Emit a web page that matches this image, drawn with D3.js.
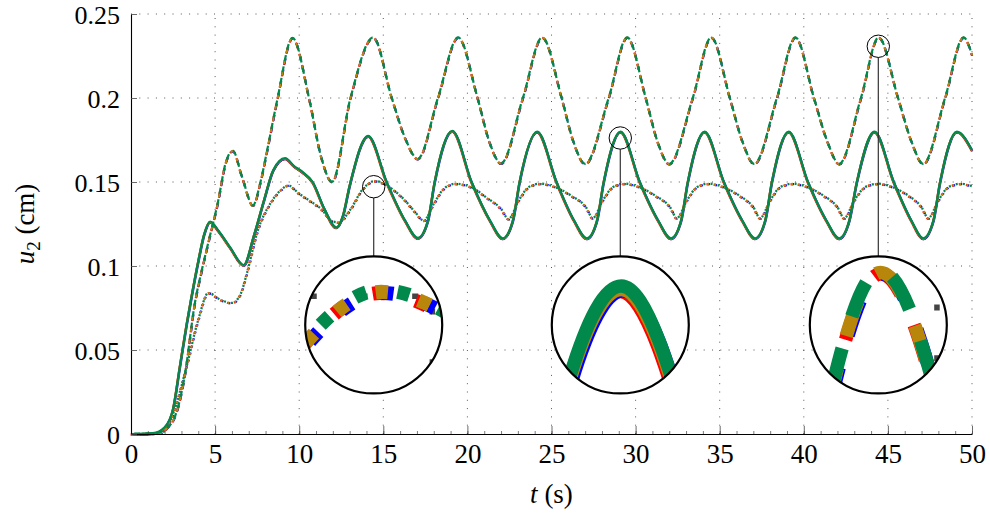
<!DOCTYPE html>
<html>
<head>
<meta charset="utf-8">
<script src="https://cdn.jsdelivr.net/npm/d3@7"></script>
<style>
  body { margin: 0; background: #fff; }
</style>
</head>
<body>
<svg id="chart" width="990" height="519"></svg>
<script>

// ---- data: [t (s), u2 (cm)] ----
var dashedPts = [[0,0],[1.5,0.0005],[2.3,0.005],[2.8,0.016],[3.2,0.035],[3.8,0.078],[4.2,0.097],[4.6,0.114],
  [5.15,0.137],[5.65,0.162],[6.05,0.1685],[6.6,0.153],[7.25,0.136],[7.7,0.150],[8.1,0.169],[8.7,0.199],
  [9.6,0.2357],[10.6,0.199],[11.3,0.165],[11.95,0.150],[13.05,0.200],[14.4,0.236],[15.5,0.200],[16.3,0.176],
  [17.05,0.1637],[18.25,0.200],[19.45,0.236],[20.6,0.200],[21.3,0.174],[22.0,0.161],[23.3,0.200],[24.45,0.236],
  [25.6,0.200],[26.3,0.174],[27.0,0.1607],[28.4,0.200],[29.5,0.236],[30.6,0.200],[31.3,0.174],[32.0,0.1607],
  [33.4,0.200],[34.5,0.236],[35.6,0.200],[36.35,0.174],[37.05,0.1607],[38.4,0.200],[39.5,0.236],[40.6,0.200],
  [41.4,0.174],[42.1,0.1607],[43.4,0.200],[44.45,0.236],[45.6,0.200],[46.4,0.174],[47.1,0.1607],[48.4,0.200],
  [49.5,0.236],[50,0.2255]];

var solidPts = [[0,0],[1.3,0.0005],[2.0,0.004],[2.5,0.015],[2.9,0.040],[3.3,0.065],[3.6,0.082],[4.0,0.103],
  [4.35,0.119],[4.7,0.1265],[5.2,0.121],[5.9,0.111],[6.7,0.1006],[7.3,0.118],[7.9,0.139],[8.45,0.157],
  [9.16,0.1642],[9.7,0.1595],[10.2,0.156],[10.8,0.150],[11.5,0.134],[12.2,0.123],[12.6,0.130],[13.0,0.148],
  [14.1,0.1775],[15.2,0.150],[16.3,0.127],[17.05,0.1167],[17.65,0.127],[18.05,0.150],[19.1,0.1805],[20.25,0.150],
  [21.35,0.127],[22.1,0.1165],[22.7,0.127],[23.1,0.150],[24.15,0.180],[25.3,0.150],[26.35,0.127],[27.1,0.1165],
  [27.7,0.127],[28.1,0.150],[29.1,0.180],[30.25,0.150],[31.35,0.127],[32.1,0.1165],[32.7,0.127],[33.1,0.150],
  [34.1,0.180],[35.25,0.150],[36.35,0.127],[37.1,0.1165],[37.7,0.127],[38.1,0.150],[39.1,0.180],[40.25,0.150],
  [41.35,0.127],[42.1,0.1165],[42.7,0.127],[43.15,0.150],[44.2,0.180],[45.35,0.150],[46.4,0.127],[47.1,0.1165],
  [47.7,0.127],[48.1,0.150],[49.1,0.180],[50,0.169]];

var dottedPts = [[0,0],[1.8,0.0005],[2.5,0.012],[3.3,0.040],[4.0,0.068],[4.6,0.084],[5.3,0.080],[6.0,0.078],
  [6.5,0.083],[6.9,0.096],[7.5,0.120],[8.3,0.1375],[9.0,0.146],[9.35,0.148],[10.0,0.143],[10.6,0.139],
  [11.3,0.134],[12.0,0.1265],[12.35,0.126],[13.0,0.133],[13.8,0.146],[14.5,0.1506],[15.5,0.146],[16.2,0.140],
  [16.9,0.132],[17.4,0.127],[18.0,0.137],[18.6,0.146],[19.3,0.149],[20.4,0.146],[21.1,0.141],[22.0,0.134],
  [22.45,0.128],[23.05,0.139],[23.65,0.147],[24.35,0.149],[25.45,0.146],[26.15,0.142],[27.05,0.135],[27.45,0.1285],
  [28.05,0.139],[28.65,0.147],[29.35,0.149],[30.45,0.146],[31.15,0.142],[32.05,0.135],[32.45,0.1285],[33.05,0.139],
  [33.65,0.147],[34.35,0.149],[35.45,0.146],[36.15,0.142],[37.0,0.135],[37.4,0.1285],[38.0,0.139],[38.6,0.147],
  [39.35,0.149],[40.45,0.146],[41.15,0.142],[42.0,0.135],[42.4,0.1285],[43.0,0.139],[43.65,0.147],[44.4,0.149],
  [45.5,0.146],[46.2,0.142],[47.0,0.135],[47.4,0.1285],[48.0,0.139],[48.6,0.147],[49.35,0.149],[50,0.1475]];

var xTicks = [0, 5, 10, 15, 20, 25, 30, 35, 40, 45, 50];
var xMinorTicks = d3.range(0, 51, 1);
var yTicks = [0, 0.05, 0.1, 0.15, 0.2, 0.25];
var yTickLabels = ["0", "0.05", "0.1", "0.15", "0.2", "0.25"];

// magnifier spots (t, u) and the level of the lens centres
var zoomSpots = [[14.43, 0.1472], [29.09, 0.1762], [44.43, 0.2308]];
var lensLevel = 0.0649;

var seriesColors = ["#ff0000", "#0000ff", "#b8860b", "#00894b"];

// ---- layout ----
var svg = d3.select("#chart");
var x = d3.scaleLinear().domain([0, 50]).range([131, 972]);
var y = d3.scaleLinear().domain([0, 0.25]).range([434, 14]);
var serif = "'Liberation Serif', 'Times New Roman', serif";

var line = d3.line()
  .x(function (d) { return x(d[0]); })
  .y(function (d) { return y(d[1]); })
  .curve(d3.curveMonotoneX);

// small pixel shifts (per colour) so the overlapping methods peek out from under each other
var styles = [
  { pts: dashedPts, width: 2.2, dash: "6,5.5", offs: [0.4, -0.4, 0, -3.0],
    shift: [[0, 0.4], [0.2, 0.4], [0, 0.15], [0, -0.2]] },
  { pts: solidPts,  width: 2.2, dash: null,    offs: [0, 0, 0, 0],
    shift: [[-0.2, 0.9], [0.3, 0.8], [0, 0.6], [0, 0]] },
  { pts: dottedPts, width: 2.3, dash: "2,5.2", offs: [0.3, -0.6, 0, -3.6],
    shift: [[-0.2, 0.5], [0.3, 0.5], [0, 0.3], [0, 0]] }
];

function drawPlot(g) {
  var grid = g.append("g")
    .attr("stroke", "#444")
    .attr("stroke-width", 0.9)
    .attr("stroke-dasharray", "1,7.3");

  grid.selectAll("line.v")
    .data(xTicks.slice(1))
    .enter().append("line")
    .attr("x1", function (d) { return x(d); })
    .attr("x2", function (d) { return x(d); })
    .attr("y1", y(0))
    .attr("y2", y(0.25));

  grid.selectAll("line.h")
    .data(yTicks.slice(1))
    .enter().append("line")
    .attr("x1", x(0))
    .attr("x2", x(50))
    .attr("y1", function (d) { return y(d); })
    .attr("y2", function (d) { return y(d); });

  seriesColors.forEach(function (c, i) {
    styles.forEach(function (s) {
      var p = g.append("path")
        .datum(s.pts)
        .attr("d", line)
        .attr("fill", "none")
        .attr("stroke", c)
        .attr("stroke-width", s.width)
        .attr("stroke-linejoin", "round")
        .attr("transform", "translate(" + s.shift[i][0] + "," + s.shift[i][1] + ")");
      if (s.dash) {
        p.attr("stroke-dasharray", s.dash)
          .attr("stroke-dashoffset", s.offs[i]);
      }
    });
  });
}

drawPlot(svg.append("g").attr("class", "plot"));

// ---- axes ----
var xAxis = d3.axisBottom(x)
  .tickValues(xTicks)
  .tickFormat(d3.format("d"))
  .tickSizeInner(-8)
  .tickSizeOuter(0)
  .tickPadding(9.6);

var xMinor = d3.axisBottom(x)
  .tickValues(xMinorTicks)
  .tickFormat("")
  .tickSizeInner(-3)
  .tickSizeOuter(0);

var yAxis = d3.axisLeft(y)
  .tickValues(yTicks)
  .tickFormat(function (d, i) { return yTickLabels[i]; })
  .tickSizeInner(-6)
  .tickSizeOuter(0)
  .tickPadding(11);

var gxm = svg.append("g").attr("transform", "translate(0," + y(0) + ")").call(xMinor);
gxm.select(".domain").remove();
gxm.selectAll(".tick line").attr("stroke", "#444").attr("stroke-width", 0.7);

var gx = svg.append("g").attr("transform", "translate(0," + y(0) + ")").call(xAxis);
var gy = svg.append("g").attr("transform", "translate(" + x(0) + ",0)").call(yAxis);

gx.attr("font-family", serif).attr("font-size", 27);
gy.attr("font-family", serif).attr("font-size", 26);
gy.selectAll(".tick text").attr("dy", "0.36em");

[gx, gy].forEach(function (g) {
  g.select(".domain").attr("stroke", "#000").attr("stroke-width", 1.1);
  g.selectAll(".tick line").attr("stroke", "#444").attr("stroke-width", 0.8);
  g.selectAll(".tick text").attr("fill", "#000");
});

// axis titles
var xt = svg.append("text")
  .attr("x", (x(0) + x(50)) / 2)
  .attr("y", 503)
  .attr("text-anchor", "middle")
  .attr("font-family", serif)
  .attr("font-size", 27);
xt.append("tspan").style("font-style", "italic").text("t");
xt.append("tspan").text(" (s)");

var yt = svg.append("text")
  .attr("transform", "translate(34," + (y(0) + y(0.25)) / 2 + ") rotate(-90)")
  .attr("text-anchor", "middle")
  .attr("font-family", serif)
  .attr("font-size", 27);
yt.append("tspan").style("font-style", "italic").text("u");
yt.append("tspan").attr("dy", 6).attr("font-size", 19).text("2");
yt.append("tspan").attr("dy", -6).text(" (cm)");

// ---- magnifiers ----
var spotR = 11.2, lensR = 68.5, mag = lensR / spotR;
var defs = svg.append("defs");

zoomSpots.forEach(function (s, i) {
  var sx = x(s[0]), sy = y(s[1]), ly = y(lensLevel);

  svg.append("line")
    .attr("x1", sx).attr("x2", sx)
    .attr("y1", sy + spotR).attr("y2", ly - lensR)
    .attr("stroke", "#333")
    .attr("stroke-width", 1.2);

  defs.append("clipPath").attr("id", "lens" + i)
    .append("circle").attr("cx", sx).attr("cy", ly).attr("r", lensR);

  var lens = svg.append("g").attr("clip-path", "url(#lens" + i + ")");
  lens.append("circle").attr("cx", sx).attr("cy", ly).attr("r", lensR).attr("fill", "#fff");
  var inner = lens.append("g")
    .attr("transform", "translate(" + sx + "," + ly + ") scale(" + mag + ") translate(" + (-sx) + "," + (-sy) + ")");
  drawPlot(inner);

  svg.append("circle")
    .attr("cx", sx).attr("cy", ly).attr("r", lensR)
    .attr("fill", "none").attr("stroke", "#000").attr("stroke-width", 2.2);

  svg.append("circle")
    .attr("cx", sx).attr("cy", sy).attr("r", spotR)
    .attr("fill", "none").attr("stroke", "#000").attr("stroke-width", 1);
});

</script>
</body>
</html>
